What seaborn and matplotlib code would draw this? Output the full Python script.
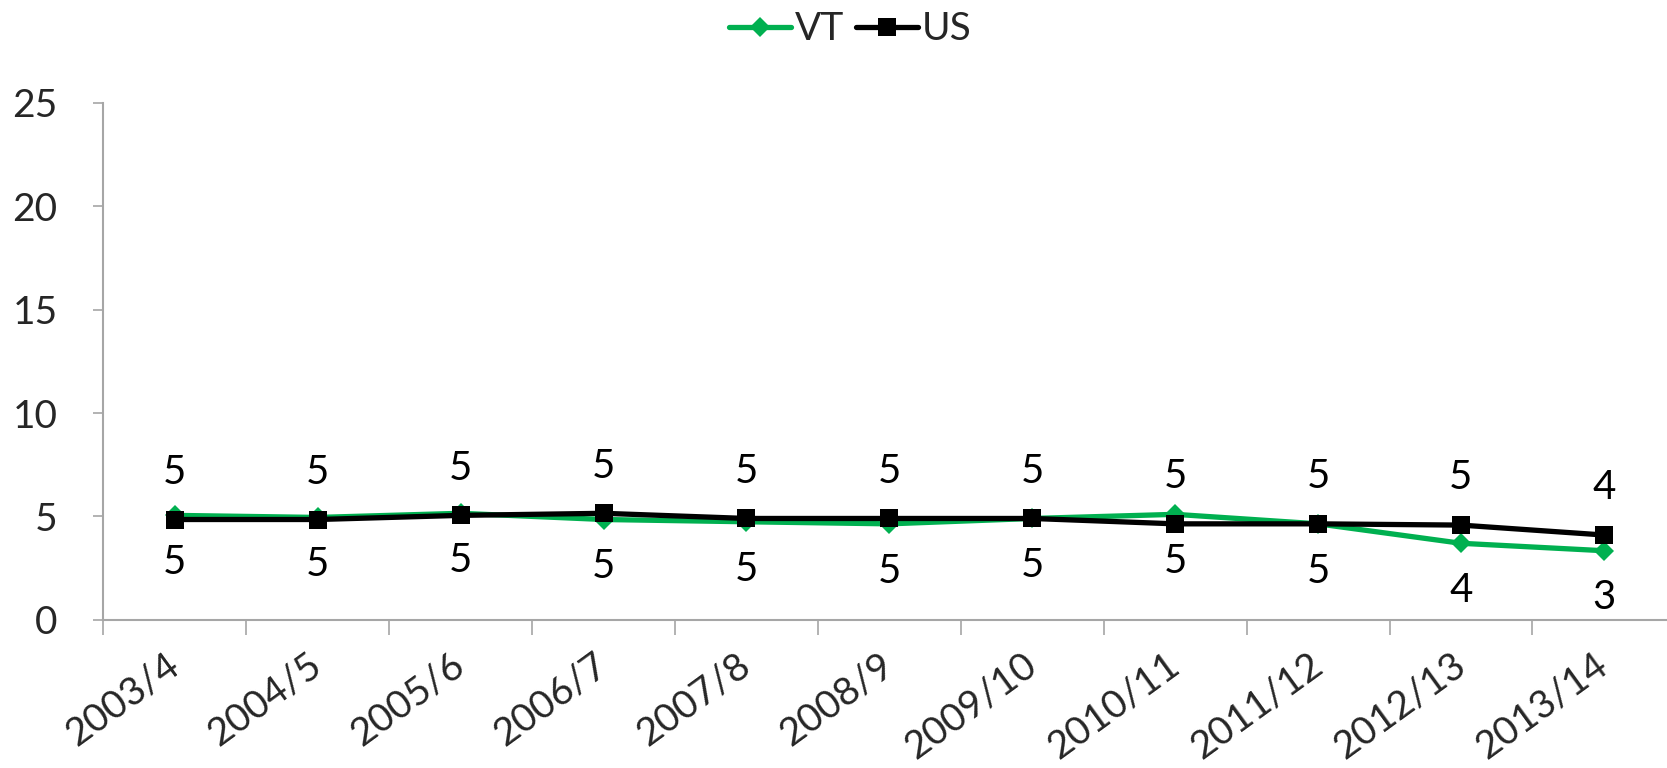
import pandas as pd
import matplotlib
matplotlib.use("Agg")
import matplotlib.pyplot as plt
import seaborn as sns

years = ["2003/4", "2004/5", "2005/6", "2006/7", "2007/8", "2008/9",
         "2009/10", "2010/11", "2011/12", "2012/13", "2013/14"]
vt = [5.05, 4.95, 5.15, 4.85, 4.74, 4.64, 4.9, 5.1, 4.64, 3.7, 3.34]
us = [4.85, 4.85, 5.05, 5.15, 4.9, 4.9, 4.9, 4.64, 4.64, 4.58, 4.1]

GREEN = "#00B050"
GRAY = "#A6A6A6"

sns.set_theme(style="white")
plt.rcParams["font.family"] = ["Lato", "DejaVu Sans"]

df_vt = pd.DataFrame({"pos": range(len(years)), "value": vt})
df_us = pd.DataFrame({"pos": range(len(years)), "value": us})

fig = plt.figure(figsize=(16.67, 7.68), dpi=100)
ax = fig.add_axes([0.062, 0.193, 0.943, 0.673])

sns.lineplot(data=df_vt, x="pos", y="value", ax=ax, color=GREEN, linewidth=3.8,
             marker="D", markersize=10, markeredgewidth=0, label="VT")
sns.lineplot(data=df_us, x="pos", y="value", ax=ax, color="black", linewidth=3.8,
             marker="s", markersize=13.5, markeredgewidth=0, label="US")

# data labels: US above, VT below
for i, v in enumerate(us):
    ax.annotate(f"{round(v):d}", (i, v), xytext=(0, 34), textcoords="offset points",
                ha="center", va="center", fontsize=29, color="black")
for i, v in enumerate(vt):
    ax.annotate(f"{round(v):d}", (i, v), xytext=(0, -34), textcoords="offset points",
                ha="center", va="center", fontsize=29, color="black")

ax.set_xlim(-0.5, len(years) - 0.5)
ax.set_ylim(0, 25)
ax.set_yticks([0, 5, 10, 15, 20, 25])
ax.tick_params(axis="y", labelsize=28, length=7, width=1.2, color=GRAY, pad=26, left=True)

ax.set_xticks(range(len(years)))
ax.set_xticklabels(years, rotation=36, ha="right", va="center", rotation_mode="anchor", fontsize=28)
ax.set_xticks([i - 0.5 for i in range(len(years) + 1)], minor=True)
ax.tick_params(axis="x", which="major", length=0, pad=30)
ax.tick_params(axis="x", which="minor", length=11, width=1.2, color=GRAY, bottom=True)

ax.set_xlabel("")
ax.set_ylabel("")
for side in ["top", "right"]:
    ax.spines[side].set_visible(False)
for side in ["left", "bottom"]:
    ax.spines[side].set_color(GRAY)
    ax.spines[side].set_linewidth(1.5)

handles, labels = ax.get_legend_handles_labels()
ax.get_legend().remove()
fig.legend(handles, labels, loc="center", bbox_to_anchor=(0.51, 0.962), ncol=2,
           frameon=False, fontsize=28, handlelength=1.6, handletextpad=0.1,
           columnspacing=0.3)

fig.savefig("out.png", dpi=100)
